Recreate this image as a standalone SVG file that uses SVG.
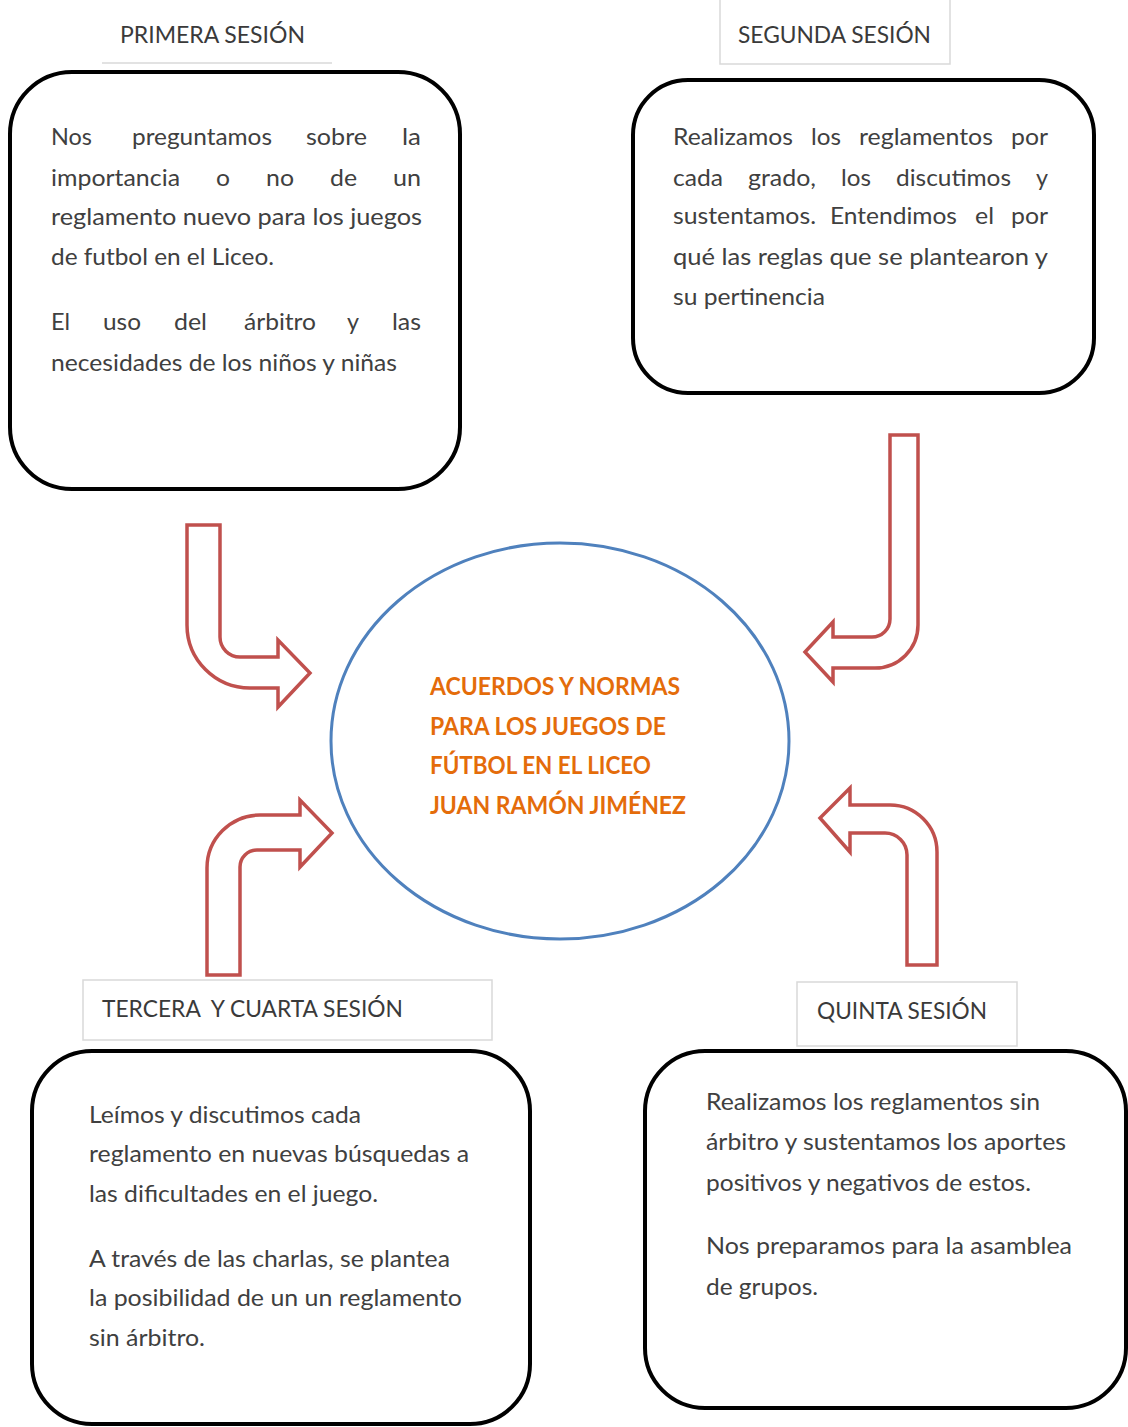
<svg xmlns="http://www.w3.org/2000/svg" width="1128" height="1427" viewBox="0 0 1128 1427">
<style>
.box{fill:#fff;stroke:#000;stroke-width:4}
.tbox{fill:#fff;stroke:#d9d9d9;stroke-width:1.5}
.t{font-family:Lato,"Liberation Sans",sans-serif;font-size:23px;fill:#404040}
.h{font-family:Lato,"Liberation Sans",sans-serif;font-size:23px;fill:#3a3a3a}
.c{font-family:Lato,"Liberation Sans",sans-serif;font-size:24px;font-weight:bold;fill:#e46c0a}
.arr{fill:#fff;stroke:#c0504d;stroke-width:3.5;stroke-linejoin:miter}
</style>
<rect width="1128" height="1427" fill="#fff"/>
<g id="connectors">
<path class="arr" d="M187,525 H220 V637 A20,20 0 0 0 240,657 H278 V640 L310,673 L278,707 V688 H250 A63,63 0 0 1 187,625 Z"/>
<path class="arr" d="M890,435 H918 V625 A43,43 0 0 1 875,668 H833 V682 L805,652 L833,622 V637 H872 A18,18 0 0 0 890,619 Z"/>
<path class="arr" d="M207,975 V868 A53,53 0 0 1 260,815 H300 V800 L332,833 L300,867 V850 H257 A17,17 0 0 0 240,867 V975 Z"/>
<path class="arr" d="M937,965 V852 A47,47 0 0 0 890,805 H850 V788 L820,818 L850,852 V833 H885 A22,22 0 0 1 907,855 V965 Z"/>
</g>
<g id="centro">
<ellipse cx="560" cy="741" rx="229" ry="198" fill="#fff" stroke="#4f81bd" stroke-width="3"/>
<text class="c" x="430" y="695" textLength="250" lengthAdjust="spacingAndGlyphs">ACUERDOS Y NORMAS</text>
<text class="c" x="430" y="735" textLength="236" lengthAdjust="spacingAndGlyphs">PARA LOS JUEGOS DE</text>
<text class="c" x="430" y="774" textLength="221" lengthAdjust="spacingAndGlyphs">FÚTBOL EN EL LICEO</text>
<text class="c" x="430" y="814" textLength="256" lengthAdjust="spacingAndGlyphs">JUAN RAMÓN JIMÉNEZ</text>
</g>
<g id="titulo1">
<line x1="102" y1="63" x2="332" y2="63" stroke="#d9d9d9" stroke-width="1.5"/>
<text class="h" x="120" y="43" textLength="185" lengthAdjust="spacingAndGlyphs">PRIMERA SESIÓN</text>
</g>
<g id="titulo2">
<rect class="tbox" x="720" y="-10" width="230" height="74"/>
<text class="h" x="738" y="43" textLength="193" lengthAdjust="spacingAndGlyphs">SEGUNDA SESIÓN</text>
</g>
<g id="titulo3">
<rect class="tbox" x="83" y="980" width="409" height="60"/>
<text class="h" x="102" y="1017" textLength="301" lengthAdjust="spacingAndGlyphs" xml:space="preserve">TERCERA  Y CUARTA SESIÓN</text>
</g>
<g id="titulo4">
<rect class="tbox" x="797" y="982" width="220" height="64"/>
<text class="h" x="817" y="1019" textLength="170" lengthAdjust="spacingAndGlyphs">QUINTA SESIÓN</text>
</g>
<g id="sesion1">
<rect class="box" x="10" y="72" width="450" height="417" rx="62" ry="62"/>
<text class="t" x="51" y="145" textLength="41" lengthAdjust="spacingAndGlyphs">Nos</text>
<text class="t" x="132" y="145" textLength="140" lengthAdjust="spacingAndGlyphs">preguntamos</text>
<text class="t" x="306" y="145" textLength="61" lengthAdjust="spacingAndGlyphs">sobre</text>
<text class="t" x="402" y="145" textLength="19" lengthAdjust="spacingAndGlyphs">la</text>
<text class="t" x="51" y="186" textLength="129" lengthAdjust="spacingAndGlyphs">importancia</text>
<text class="t" x="216" y="186" textLength="14" lengthAdjust="spacingAndGlyphs">o</text>
<text class="t" x="266" y="186" textLength="28" lengthAdjust="spacingAndGlyphs">no</text>
<text class="t" x="330" y="186" textLength="27" lengthAdjust="spacingAndGlyphs">de</text>
<text class="t" x="393" y="186" textLength="28" lengthAdjust="spacingAndGlyphs">un</text>
<text class="t" x="51" y="225" textLength="371" lengthAdjust="spacingAndGlyphs">reglamento nuevo para los juegos</text>
<text class="t" x="51" y="265" textLength="223" lengthAdjust="spacingAndGlyphs">de futbol en el Liceo.</text>
<text class="t" x="51" y="330" textLength="19" lengthAdjust="spacingAndGlyphs">El</text>
<text class="t" x="103" y="330" textLength="38" lengthAdjust="spacingAndGlyphs">uso</text>
<text class="t" x="174" y="330" textLength="33" lengthAdjust="spacingAndGlyphs">del</text>
<text class="t" x="244" y="330" textLength="72" lengthAdjust="spacingAndGlyphs">árbitro</text>
<text class="t" x="347" y="330" textLength="12" lengthAdjust="spacingAndGlyphs">y</text>
<text class="t" x="392" y="330" textLength="29" lengthAdjust="spacingAndGlyphs">las</text>
<text class="t" x="51" y="371" textLength="346" lengthAdjust="spacingAndGlyphs">necesidades de los niños y niñas</text>
</g>
<g id="sesion2">
<rect class="box" x="633" y="80" width="461" height="313" rx="55" ry="55"/>
<text class="t" x="673" y="145" textLength="120" lengthAdjust="spacingAndGlyphs">Realizamos</text>
<text class="t" x="811" y="145" textLength="30" lengthAdjust="spacingAndGlyphs">los</text>
<text class="t" x="859" y="145" textLength="134" lengthAdjust="spacingAndGlyphs">reglamentos</text>
<text class="t" x="1011" y="145" textLength="37" lengthAdjust="spacingAndGlyphs">por</text>
<text class="t" x="673" y="186" textLength="50" lengthAdjust="spacingAndGlyphs">cada</text>
<text class="t" x="748" y="186" textLength="68" lengthAdjust="spacingAndGlyphs">grado,</text>
<text class="t" x="841" y="186" textLength="30" lengthAdjust="spacingAndGlyphs">los</text>
<text class="t" x="896" y="186" textLength="115" lengthAdjust="spacingAndGlyphs">discutimos</text>
<text class="t" x="1036" y="186" textLength="12" lengthAdjust="spacingAndGlyphs">y</text>
<text class="t" x="673" y="224" textLength="143" lengthAdjust="spacingAndGlyphs">sustentamos.</text>
<text class="t" x="830" y="224" textLength="127" lengthAdjust="spacingAndGlyphs">Entendimos</text>
<text class="t" x="975" y="224" textLength="19" lengthAdjust="spacingAndGlyphs">el</text>
<text class="t" x="1011" y="224" textLength="37" lengthAdjust="spacingAndGlyphs">por</text>
<text class="t" x="673" y="265" textLength="375" lengthAdjust="spacingAndGlyphs">qué las reglas que se plantearon y</text>
<text class="t" x="673" y="305" textLength="152" lengthAdjust="spacingAndGlyphs">su pertinencia</text>
</g>
<g id="sesion3">
<rect class="box" x="32" y="1051" width="498" height="373" rx="60" ry="60"/>
<text class="t" x="89" y="1123" textLength="272" lengthAdjust="spacingAndGlyphs">Leímos y discutimos cada</text>
<text class="t" x="89" y="1162" textLength="380" lengthAdjust="spacingAndGlyphs">reglamento en nuevas búsquedas a</text>
<text class="t" x="89" y="1202" textLength="289" lengthAdjust="spacingAndGlyphs">las dificultades en el juego.</text>
<text class="t" x="89" y="1267" textLength="361" lengthAdjust="spacingAndGlyphs">A través de las charlas, se plantea</text>
<text class="t" x="89" y="1306" textLength="373" lengthAdjust="spacingAndGlyphs">la posibilidad de un un reglamento</text>
<text class="t" x="89" y="1346" textLength="116" lengthAdjust="spacingAndGlyphs">sin árbitro.</text>
</g>
<g id="sesion4">
<rect class="box" x="645" y="1051" width="481" height="357" rx="60" ry="60"/>
<text class="t" x="706" y="1110" textLength="334" lengthAdjust="spacingAndGlyphs">Realizamos los reglamentos sin</text>
<text class="t" x="706" y="1150" textLength="360" lengthAdjust="spacingAndGlyphs">árbitro y sustentamos los aportes</text>
<text class="t" x="706" y="1191" textLength="325" lengthAdjust="spacingAndGlyphs">positivos y negativos de estos.</text>
<text class="t" x="706" y="1254" textLength="366" lengthAdjust="spacingAndGlyphs">Nos preparamos para la asamblea</text>
<text class="t" x="706" y="1295" textLength="112" lengthAdjust="spacingAndGlyphs">de grupos.</text>
</g>
</svg>
